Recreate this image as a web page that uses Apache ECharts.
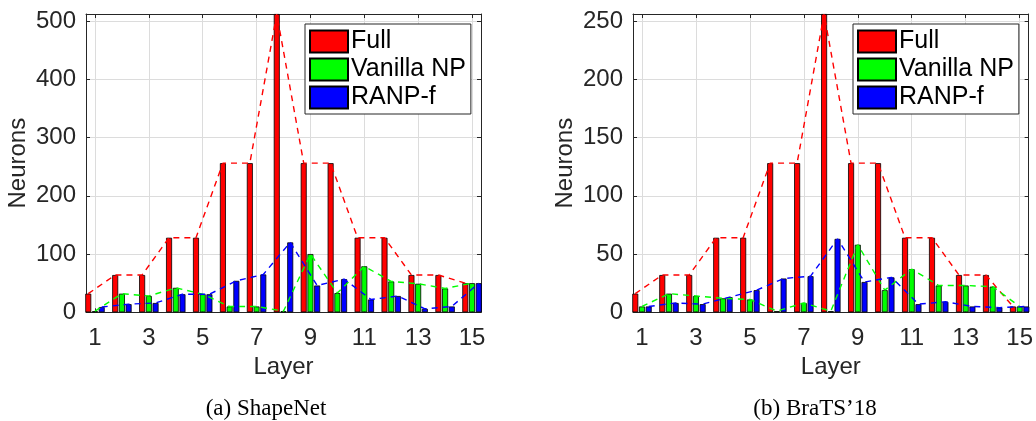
<!DOCTYPE html>
<html>
<head>
<meta charset="utf-8">
<script src="https://cdn.jsdelivr.net/npm/echarts@6/dist/echarts.min.js"></script>
<style>
html,body{margin:0;padding:0;background:#fff;}
#c{width:1036px;height:421px;}
</style>
</head>
<body>
<div id="c"></div>
<script>
// ---- data ----
var layers = [1,2,3,4,5,6,7,8,9,10,11,12,13,14,15];
var xTicks = [1,3,5,7,9,11,13,15];
var seriesNames = ['Full','Vanilla NP','RANP-f'];
// (a) ShapeNet
var shapeFull    = [32,64,64,128,128,256,256,512,256,256,128,128,64,64,50];
var shapeVanilla = [2,32,28,42,31,10,10,2,100,33,79,53,49,41,50];
var shapeRanp    = [9,14,16,31,31,54,65,120,46,57,22,28,6,10,50];
var shapeYTicks  = [0,100,200,300,400,500];
// (b) BraTS'18
var bratsFull    = [16,32,32,64,64,128,128,256,128,128,64,64,32,32,5];
var bratsVanilla = [5,16,14,12,11,1,8,1,58,19,37,23,23,22,5];
var bratsRanp    = [5,8,7,13,19,29,31,63,26,30,7,9,5,4,5];
var bratsYTicks  = [0,50,100,150,200,250];
var captions = ['(a) ShapeNet', "(b) BraTS\u201918"];

// ---- styling ----
var colors = ['#ff0000','#00ff00','#0000ff'];
var axisColor = '#262626';
var gridColor = '#dcdcdc';
var font = 'Liberation Sans, Arial, Helvetica, sans-serif';
var barW = 6, barGapPct = 12;
var groupOffset = 0.25; // line vertex offset (axis units) of outer bars

var chart = echarts.init(document.getElementById('c'), null, {renderer:'canvas'});

var grids = [
  {left:86, right:555, top:14, bottom:108.7},
  {left:633, right:7, top:14, bottom:108.7}
];
var xAxes = [], yAxes = [], series = [], legends = [], graphics = [];
var datasets = [
  [shapeFull, shapeVanilla, shapeRanp, shapeYTicks, 512],
  [bratsFull, bratsVanilla, bratsRanp, bratsYTicks, 256]
];
var legendPos = [{left:305, top:24},{left:853, top:24}];
var captionX = [266, 815];

datasets.forEach(function(ds, g){
  var xMin = 1 - 1/3, xMax = 15 + 1/3;
  xAxes.push({
    gridIndex:g, type:'value', position:'bottom', min:xMin, max:xMax,
    name:'Layer', nameLocation:'middle', nameGap:42,
    nameTextStyle:{fontFamily:font, fontSize:24, color:axisColor},
    axisLine:{show:true, onZero:false, lineStyle:{color:axisColor, width:1}},
    axisTick:{show:true, inside:true, length:4, customValues:xTicks, lineStyle:{color:axisColor}},
    axisLabel:{show:true, customValues:xTicks, margin:14, fontFamily:font, fontSize:24, color:axisColor},
    splitLine:{show:true, lineStyle:{color:gridColor, width:1}}
  });
  xAxes.push({
    gridIndex:g, type:'value', position:'top', min:xMin, max:xMax,
    axisLine:{show:true, onZero:false, lineStyle:{color:axisColor, width:1}},
    axisTick:{show:true, inside:true, length:4, customValues:xTicks, lineStyle:{color:axisColor}},
    axisLabel:{show:false},
    splitLine:{show:false}
  });
  yAxes.push({
    gridIndex:g, type:'value', position:'left', min:0, max:ds[4],
    name:'Neurons', nameLocation:'middle', nameGap:56,
    nameTextStyle:{fontFamily:font, fontSize:24, color:axisColor},
    axisLine:{show:true, onZero:false, lineStyle:{color:axisColor, width:1}},
    axisTick:{show:true, inside:true, length:4, customValues:ds[3], lineStyle:{color:axisColor}},
    axisLabel:{show:true, customValues:ds[3], margin:10, fontFamily:font, fontSize:24, color:axisColor, padding:[5,0,0,0]},
    splitLine:{show:true, lineStyle:{color:gridColor, width:1}}
  });
  yAxes.push({
    gridIndex:g, type:'value', position:'right', min:0, max:ds[4],
    axisLine:{show:true, onZero:false, lineStyle:{color:axisColor, width:1}},
    axisTick:{show:true, inside:true, length:4, customValues:ds[3], lineStyle:{color:axisColor}},
    axisLabel:{show:false},
    splitLine:{show:false}
  });
  var xi = g*2, yi = g*2;
  for (var s=0; s<3; s++){
    var vals = ds[s];
    series.push({
      type:'bar', name:seriesNames[s], xAxisIndex:xi, yAxisIndex:yi,
      barWidth:barW, barGap:barGapPct+'%',
      data: layers.map(function(l,i){return [l, vals[i]];}),
      itemStyle:{color:colors[s], borderColor:'#000', borderWidth:0.8},
      emphasis:{disabled:true}, animation:false, z:2
    });
  }
  for (var s2=0; s2<3; s2++){
    var vals2 = ds[s2];
    var off = (s2-1)*groupOffset;
    series.push({
      type:'line', name:seriesNames[s2]+' trend', xAxisIndex:xi, yAxisIndex:yi,
      data: layers.map(function(l,i){return [l+off, vals2[i]];}),
      showSymbol:false, symbol:'none',
      lineStyle:{color:colors[s2], width:1.4, type:[6,5]},
      emphasis:{disabled:true}, animation:false, z:3
    });
  }
  legends.push({
    data:seriesNames, orient:'vertical', left:legendPos[g].left, top:legendPos[g].top,
    icon:'rect', itemWidth:38, itemHeight:22, itemGap:3,
    padding:[5,5,4,4], backgroundColor:'#fff', borderColor:axisColor, borderWidth:1,
    textStyle:{fontFamily:font, fontSize:25, color:'#000', lineHeight:22, padding:[0,0,0,-2]},
    selectedMode:false, z:10
  });
  graphics.push({
    type:'text', x:captionX[g], y:409,
    style:{text:captions[g], font:'23px "Liberation Serif", "Times New Roman", serif', fill:'#000', textAlign:'center', textVerticalAlign:'middle'}
  });
});

chart.setOption({
  animation:false,
  grid:grids,
  xAxis:xAxes,
  yAxis:yAxes,
  legend:legends,
  series:series,
  graphic:graphics
});
</script>
</body>
</html>
